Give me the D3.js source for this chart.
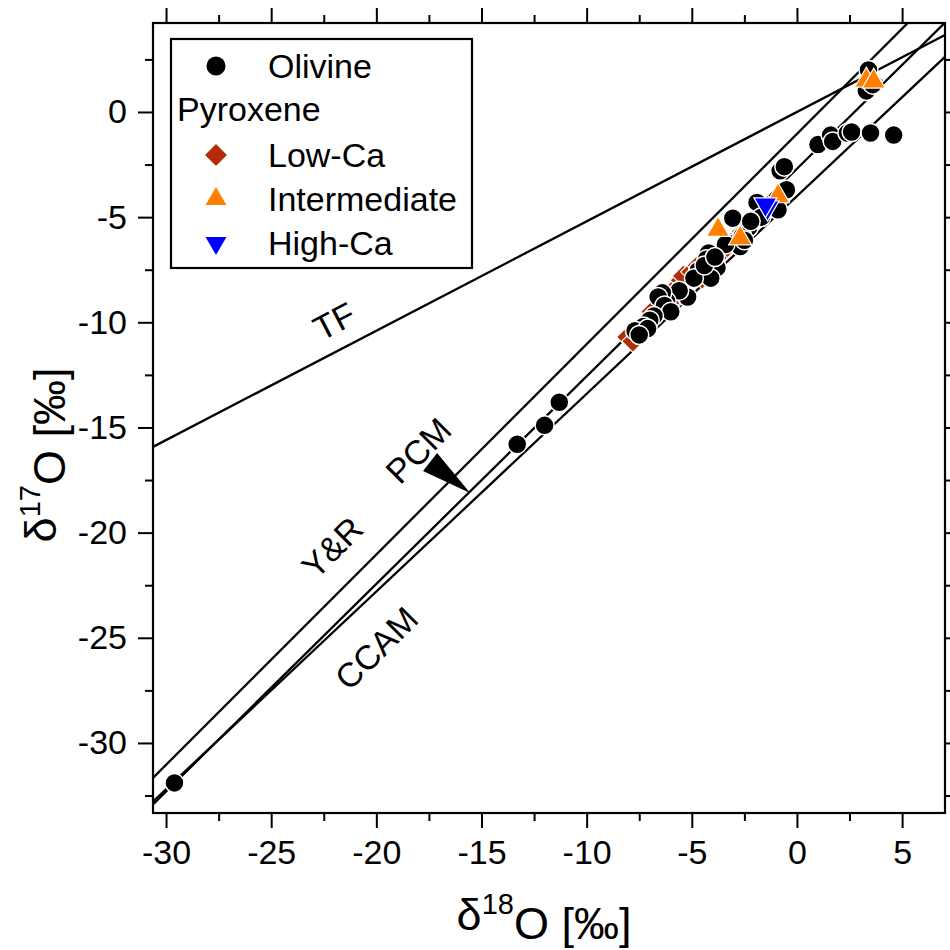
<!DOCTYPE html>
<html>
<meta charset="utf-8">
<script src="https://d3js.org/d3.v7.min.js"></script>
<style>
  body { margin: 0; background: #fff; }
  svg text { font-family: "Liberation Sans", Arial, sans-serif; fill: #000; }
</style>
<body>
<div id="my_dataviz"></div>
<script>

// olivine analyses [d18O, d17O]
var olivine = [
  [-29.6, -31.9], [-13.3, -15.8], [-12.0, -14.9], [-11.3, -13.8],
  [3.4, 2.0], [3.3, 1.0], [3.6, 1.3],
  [1.0, -1.55], [1.6, -1.1], [1.7, -1.4], [2.4, -1.0], [2.6, -0.95], [3.5, -1.0], [4.6, -1.1],
  [-0.8, -2.8], [-0.6, -2.6], [-0.5, -3.7], [-1.9, -4.3], [-0.9, -4.65], [-1.7, -5.0],
  [-3.05, -5.05], [-2.3, -5.5], [-3.1, -6.2], [-3.0, -6.25], [-2.7, -6.4], [-2.6, -5.9],
  [-2.2, -5.2], [-3.4, -6.3], [-2.5, -6.1],
  [-4.2, -6.7], [-4.3, -7.0], [-4.7, -7.55], [-4.5, -7.7], [-3.8, -7.4], [-4.1, -7.9],
  [-4.9, -7.9], [-4.4, -7.3], [-3.9, -6.9],
  [-5.3, -8.7], [-5.2, -8.8], [-5.6, -8.5], [-6.2, -9.0], [-6.4, -8.6], [-6.6, -8.8], [-6.3, -9.2],
  [-6.0, -9.5], [-6.8, -9.7], [-7.0, -9.9],
  [-7.3, -10.2], [-7.7, -10.4], [-7.1, -10.3], [-7.5, -10.6]
];
// pyroxene analyses
var lowCa = [
  [-8.05, -10.7], [-7.8, -10.9], [-7.6, -10.5], [-6.6, -9.3], [-6.9, -9.5], [-6.0, -9.1],
  [-5.7, -8.3], [-5.5, -8.0], [-5.4, -7.8], [-5.0, -7.6], [-4.7, -7.3], [-4.1, -6.95],
  [-3.5, -6.6], [-3.8, -7.4], [-3.3, -6.4], [-2.8, -5.9], [-4.5, -7.9], [-5.9, -8.9],
  [-1.4, -4.5], [-0.9, -4.2], [3.6, 1.5]
];
var intermediate = [[3.3, 1.5], [3.65, 1.45], [-3.75, -5.6], [-0.9, -4.0], [-2.7, -6.0]];
var highCa = [[-1.4, -4.55], [-1.5, -4.4]];

// reference lines: d17O = slope * d18O + intercept
var refLines = [
  {name: "TF", slope: 0.52, intercept: 0},
  {name: "Y&R", slope: 1.00, intercept: -1.04},
  {name: "PCM", slope: 0.987, intercept: -2.70},
  {name: "CCAM", slope: 0.94, intercept: -4.0}
];
var lineLabels = [
  {text: "TF", x: -22.0, y: -9.95, angle: -27.5},
  {text: "PCM", x: -18.0, y: -16.1, angle: -45},
  {text: "Y&R", x: -22.1, y: -20.7, angle: -45},
  {text: "CCAM", x: -20.0, y: -25.5, angle: -45}
];
var arrowHead = [[-15.54, -18.12], [-17.78, -17.07], [-17.11, -16.21]];

var xTicks = [-30, -25, -20, -15, -10, -5, 0, 5];
var yTicks = [0, -5, -10, -15, -20, -25, -30];
var xMinor = [-27.5, -22.5, -17.5, -12.5, -7.5, -2.5, 2.5];
var yMinor = [2.5, -2.5, -7.5, -12.5, -17.5, -22.5, -27.5, -32.5];

var margin = {top: 23, right: 5, bottom: 137, left: 153},
    width = 950 - margin.left - margin.right,
    height = 950 - margin.top - margin.bottom;

var svg = d3.select("#my_dataviz")
  .append("svg")
    .attr("width", 950)
    .attr("height", 950)
  .append("g")
    .attr("transform", "translate(" + margin.left + "," + margin.top + ")");

var x = d3.scaleLinear().domain([-30.62, 7.04]).range([0, width]);
var y = d3.scaleLinear().domain([-33.33, 4.23]).range([height, 0]);

svg.append("clipPath").attr("id", "clip")
  .append("rect").attr("width", width).attr("height", height);

// plain hyphen minus like the original
var fmt = function(d) { return String(d); };
var none = function() { return ""; };

// axes (ticks outward on all four sides)
function styleAxis(g) {
  g.select(".domain").remove();
  g.selectAll("line").attr("stroke", "#000").attr("stroke-width", 2);
  g.selectAll("text").style("font-size", "34px").attr("fill", "#000");
}
svg.append("g").attr("transform", "translate(0," + height + ")")
  .call(d3.axisBottom(x).tickValues(xTicks).tickSize(15).tickPadding(12).tickFormat(fmt))
  .call(styleAxis);
svg.append("g").attr("transform", "translate(0," + height + ")")
  .call(d3.axisBottom(x).tickValues(xMinor).tickSize(8).tickFormat(none))
  .call(styleAxis);
svg.append("g")
  .call(d3.axisTop(x).tickValues(xTicks).tickSize(15).tickFormat(none))
  .call(styleAxis);
svg.append("g")
  .call(d3.axisTop(x).tickValues(xMinor).tickSize(8).tickFormat(none))
  .call(styleAxis);
svg.append("g")
  .call(d3.axisLeft(y).tickValues(yTicks).tickSize(15).tickPadding(11).tickFormat(fmt))
  .call(styleAxis);
svg.append("g")
  .call(d3.axisLeft(y).tickValues(yMinor).tickSize(8).tickFormat(none))
  .call(styleAxis);
svg.append("g").attr("transform", "translate(" + width + ",0)")
  .call(d3.axisRight(y).tickValues(yTicks).tickSize(15).tickFormat(none))
  .call(styleAxis);
svg.append("g").attr("transform", "translate(" + width + ",0)")
  .call(d3.axisRight(y).tickValues(yMinor).tickSize(8).tickFormat(none))
  .call(styleAxis);

var plot = svg.append("g").attr("clip-path", "url(#clip)");

// reference lines
var xd = x.domain();
plot.selectAll(".ref")
  .data(refLines)
  .enter()
  .append("line")
    .attr("x1", x(xd[0])).attr("x2", x(xd[1]))
    .attr("y1", function(d) { return y(d.slope * xd[0] + d.intercept); })
    .attr("y2", function(d) { return y(d.slope * xd[1] + d.intercept); })
    .attr("stroke", "#000")
    .attr("stroke-width", 2.3);

// markers
var circleR = 9.5;
var diamond = d3.symbol().type(d3.symbolSquare).size(250);
var tri = d3.symbol().type(d3.symbolTriangle).size(230);

plot.selectAll(".lowca")
  .data(lowCa).enter().append("path")
    .attr("d", diamond)
    .attr("transform", function(d) { return "translate(" + x(d[0]) + "," + y(d[1]) + ") rotate(45)"; })
    .attr("fill", "#b22e0b").attr("stroke", "#fff").attr("stroke-width", 1.2);

plot.selectAll(".olivine")
  .data(olivine).enter().append("circle")
    .attr("cx", function(d) { return x(d[0]); })
    .attr("cy", function(d) { return y(d[1]); })
    .attr("r", circleR)
    .attr("fill", "#000").attr("stroke", "#fff").attr("stroke-width", 1.5);

plot.selectAll(".inter")
  .data(intermediate).enter().append("path")
    .attr("d", tri)
    .attr("transform", function(d) { return "translate(" + x(d[0]) + "," + y(d[1]) + ")"; })
    .attr("fill", "#ff7f00").attr("stroke", "#fff").attr("stroke-width", 1.2);

plot.selectAll(".highca")
  .data(highCa).enter().append("path")
    .attr("d", tri)
    .attr("transform", function(d) { return "translate(" + x(d[0]) + "," + y(d[1]) + ") rotate(180)"; })
    .attr("fill", "#0000ff").attr("stroke", "#fff").attr("stroke-width", 1.2);

// PCM arrow
plot.append("path")
  .attr("d", "M" + arrowHead.map(function(p) { return x(p[0]) + "," + y(p[1]); }).join("L") + "Z")
  .attr("fill", "#000");

// line labels
svg.selectAll(".lbl")
  .data(lineLabels).enter().append("text")
    .attr("transform", function(d) { return "translate(" + x(d.x) + "," + y(d.y) + ") rotate(" + d.angle + ")"; })
    .attr("text-anchor", "middle")
    .attr("dy", "0.35em")
    .style("font-size", "34px")
    .text(function(d) { return d.text; });

// frame
svg.append("rect")
  .attr("width", width).attr("height", height)
  .attr("fill", "none").attr("stroke", "#000").attr("stroke-width", 2.2);

// legend
var lg = svg.append("g").attr("transform", "translate(" + (171 - margin.left) + "," + (39 - margin.top) + ")");
lg.append("rect").attr("width", 301).attr("height", 229)
  .attr("fill", "#fff").attr("stroke", "#000").attr("stroke-width", 2.2);
var legendItems = [
  {label: "Olivine", kind: "circle", cy: 27, tx: 97},
  {label: "Pyroxene", kind: "none", cy: 70, tx: 6},
  {label: "Low-Ca", kind: "diamond", cy: 116, tx: 97},
  {label: "Intermediate", kind: "up", cy: 160, tx: 97},
  {label: "High-Ca", kind: "down", cy: 204, tx: 97}
];
legendItems.forEach(function(d) {
  if (d.kind == "circle") {
    lg.append("circle").attr("cx", 45).attr("cy", d.cy).attr("r", 9.5).attr("fill", "#000");
  } else if (d.kind == "diamond") {
    lg.append("path").attr("d", d3.symbol().type(d3.symbolSquare).size(240))
      .attr("transform", "translate(45," + d.cy + ") rotate(45)").attr("fill", "#b22e0b");
  } else if (d.kind == "up") {
    lg.append("path").attr("d", d3.symbol().type(d3.symbolTriangle).size(190))
      .attr("transform", "translate(45," + d.cy + ")").attr("fill", "#ff7f00");
  } else if (d.kind == "down") {
    lg.append("path").attr("d", d3.symbol().type(d3.symbolTriangle).size(190))
      .attr("transform", "translate(45," + d.cy + ") rotate(180)").attr("fill", "#0000ff");
  }
  lg.append("text").attr("x", d.tx).attr("y", d.cy).attr("dy", "0.36em")
    .style("font-size", "34px").text(d.label);
});

// axis titles
var xt = svg.append("text")
  .attr("x", width / 2 - 5).attr("y", 930 - margin.top)
  .attr("text-anchor", "middle").style("font-size", "45px");
xt.append("tspan").text("\u03b4");
xt.append("tspan").attr("dy", "-0.55em").style("font-size", "29px").text("18");
xt.append("tspan").attr("dy", "0.55em").text("O [\u2030]");

var yt = svg.append("text")
  .attr("transform", "translate(" + (56 - margin.left) + "," + (455 - margin.top) + ") rotate(-90)")
  .attr("text-anchor", "middle").style("font-size", "45px");
yt.append("tspan").text("\u03b4");
yt.append("tspan").attr("dy", "-0.55em").style("font-size", "29px").text("17");
yt.append("tspan").attr("dy", "0.55em").text("O [\u2030]");

</script>
</body>
</html>
